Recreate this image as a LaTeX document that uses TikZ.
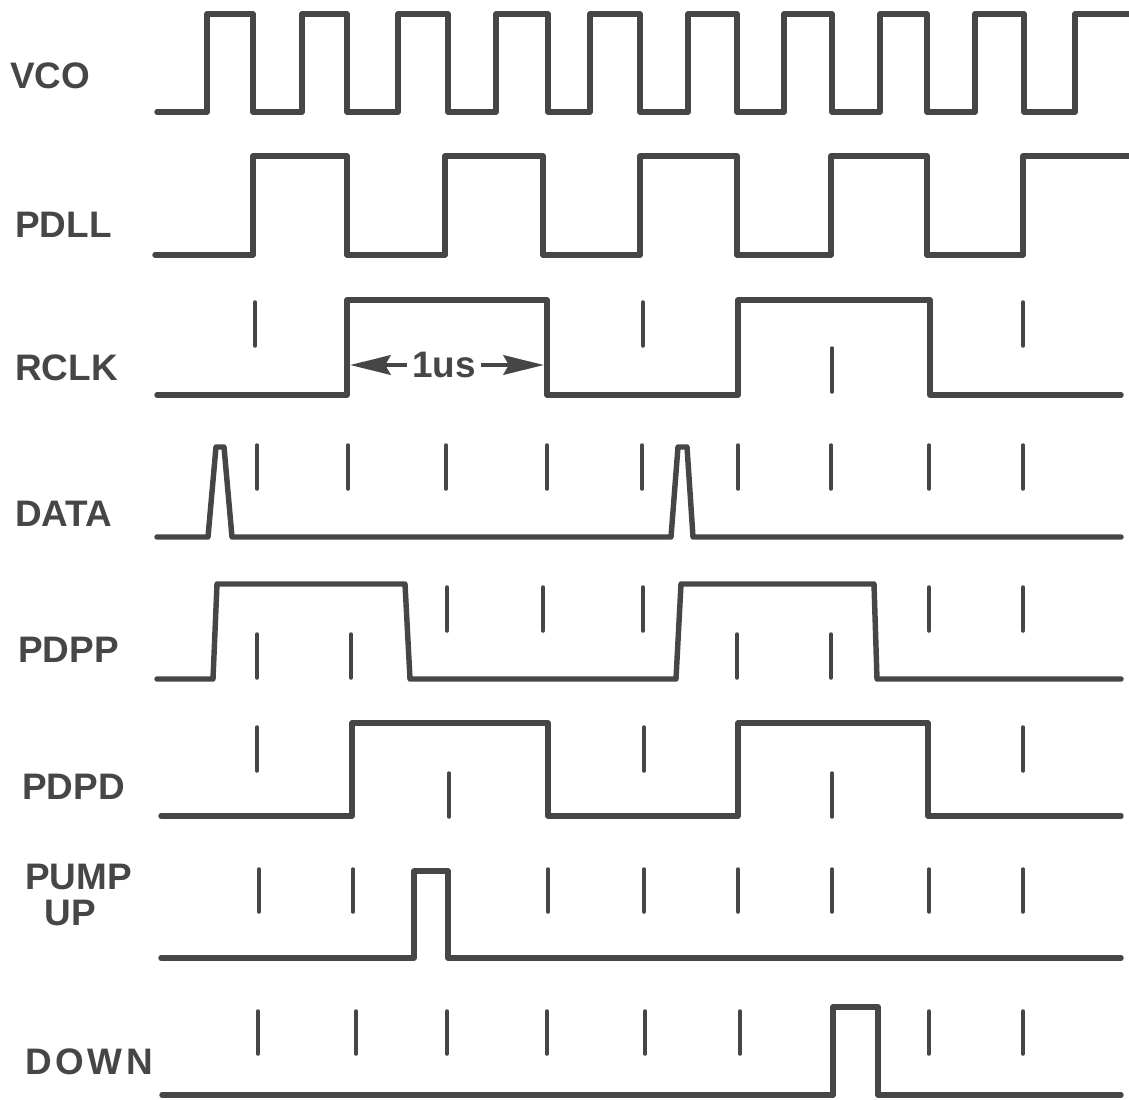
\documentclass[tikz,border=0pt]{standalone}
\usepackage{fontspec}
\setmainfont{Liberation Sans}
\usetikzlibrary{arrows.meta}
\definecolor{ink}{RGB}{70,70,70}

\begin{document}
\begin{tikzpicture}[x=0.02cm,y=-0.02cm,
    sig/.style={draw=ink,line width=3.1pt,line join=round,line cap=round},
    tic/.style={draw=ink,line width=2pt,line cap=round},
    lbl/.style={anchor=west,inner sep=0pt,text=ink,font=\fontsize{21}{21}\selectfont\bfseries},
    arr/.style={draw=ink,line width=2.8pt,-{Stealth[length=23pt,width=11pt,inset=3pt]}}]
  \useasboundingbox (0,0) rectangle (1129,1099);
  % signal names
  \node[lbl] (vco) at (10,76) {VCO};
  \node[lbl] (pdll) at (15,225) {PDLL};
  \node[lbl] (rclk) at (15,368) {RCLK};
  \node[lbl] (data) at (15,514) {DATA};
  \node[lbl] (pdpp) at (18,650) {PDPP};
  \node[lbl] (pdpd) at (22,787) {PDPD};
  \node[lbl,align=left] (pump) at (25,895) {PUMP\\\hspace*{11pt}UP};
  \node[lbl] (down) at (25,1062) {D\kern2pt O\kern2pt W\kern2pt N};
  % VCO
  \draw[sig] (157,112) \foreach \a/\b in {207/253,302/347,398/448,496/548,590/640,688/737,784/832,880/927,975/1024}
    { -- (\a,112) -- (\a,14) -- (\b,14) -- (\b,112) } -- (1075,112) -- (1075,14) -- (1135,14);
  % PDLL
  \draw[sig] (155,255) \foreach \a/\b in {253/347,445/543,640/737,831/927}
    { -- (\a,255) -- (\a,156) -- (\b,156) -- (\b,255) } -- (1023,255) -- (1023,156) -- (1135,156);
  % RCLK
  \draw[sig] (157,395) \foreach \a/\b in {347/547,738/930}
    { -- (\a,395) -- (\a,300) -- (\b,300) -- (\b,395) } -- (1121,395);
  \foreach \x in {255,643,1023} \draw[tic] (\x,302) -- (\x,346);
  \draw[tic] (832,348) -- (832,392);
  \coordinate (lt) at (350,365);
  \coordinate (rt) at (544,365);
  \node[lbl,anchor=center,inner sep=3pt] (us) at (444,365) {1us};
  \draw[arr] (us) -- (lt);
  \draw[arr] (us) -- (rt);
  % DATA
  \draw[sig] (157,537) -- (208,537) -- (216,447) -- (224,447) -- (232,537) -- (671,537)
    -- (678,447) -- (687,447) -- (693,537) -- (1121,537);
  \foreach \x in {257,348,446,547,642,738,831,929,1023} \draw[tic] (\x,445) -- (\x,489);
  % PDPP
  \draw[sig] (157,679) -- (213,679) -- (217,584) -- (405,584) -- (410,679) -- (676,679)
    -- (681,584) -- (874,584) -- (877,679) -- (1121,679);
  \foreach \x in {257,351,737,831} \draw[tic] (\x,634) -- (\x,678);
  \foreach \x in {447,543,643,929,1023} \draw[tic] (\x,587) -- (\x,631);
  % PDPD
  \draw[sig] (161,816) \foreach \a/\b in {352/548,738/928}
    { -- (\a,816) -- (\a,723) -- (\b,723) -- (\b,816) } -- (1121,816);
  \foreach \x in {257,644,1023} \draw[tic] (\x,727) -- (\x,771);
  \foreach \x in {449,832} \draw[tic] (\x,773) -- (\x,817);
  % PUMP UP
  \draw[sig] (161,958) -- (414,958) -- (414,871) -- (448,871) -- (448,958) -- (1121,958);
  \foreach \x in {259,353,548,644,738,832,929,1023} \draw[tic] (\x,869) -- (\x,912);
  % DOWN
  \draw[sig] (162,1095) -- (833,1095) -- (833,1007) -- (878,1007) -- (878,1095) -- (1121,1095);
  \foreach \x in {258,356,447,547,645,740,929,1023} \draw[tic] (\x,1011) -- (\x,1054);
\end{tikzpicture}
\end{document}
